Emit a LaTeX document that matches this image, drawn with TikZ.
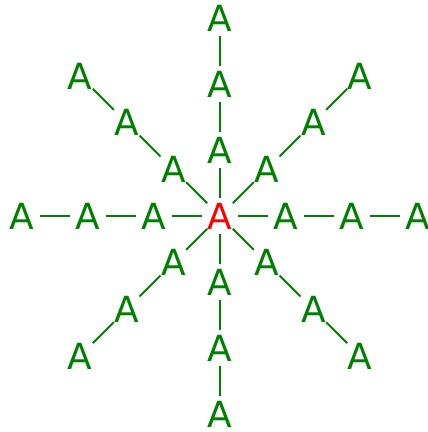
\documentclass[tikz,border=0pt]{standalone}
\usepackage{fontspec}
\setmainfont{DejaVu Sans}
\usetikzlibrary{calc}
\definecolor{agreen}{RGB}{0,128,0}
\definecolor{ared}{RGB}{255,0,0}
\begin{document}
\begin{tikzpicture}[x=1pt,y=1pt,
  vtx/.style={circle,inner sep=0pt,text=agreen,font=\fontsize{36}{36}\selectfont},
  hub/.style={vtx,text=ared},
  edge/.style={draw=agreen,line width=2pt}]
\useasboundingbox (0,0) rectangle (428,432);
\node[hub] (c) at (220,216) {A};
\foreach \d in {0,45,...,315}{
  \foreach \k in {1,2,3}{
    \node[vtx] (n\d-\k) at ($(220,216)+(\d:{66*\k})$) {A};
  }
  \draw[edge] (c) -- (n\d-1);
  \draw[edge] (n\d-1) -- (n\d-2);
  \draw[edge] (n\d-2) -- (n\d-3);
}
\end{tikzpicture}
\end{document}
